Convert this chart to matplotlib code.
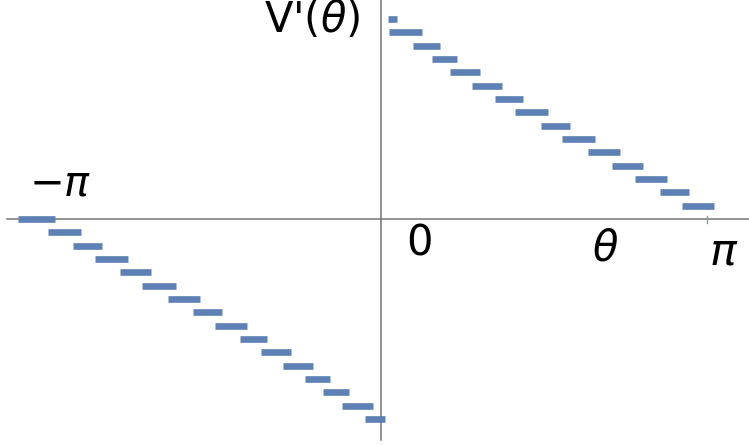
import numpy as np
import matplotlib.pyplot as plt

# step segments of V'(theta) (x in radians)
left_start = [-3.50, -3.21, -2.97, -2.76, -2.52, -2.30, -2.05, -1.81,
              -1.60, -1.36, -1.16, -0.94, -0.73, -0.56, -0.38, -0.15]
left_end = [-3.14, -2.89, -2.69, -2.44, -2.22, -1.98, -1.74, -1.53,
            -1.29, -1.10, -0.87, -0.66, -0.49, -0.31, -0.08, 0.04]
left_level = [0, -1, -2, -3, -4, -5, -6, -7, -8, -9, -10, -11, -12, -13, -14, -15]

right_start = [0.07, 0.08, 0.31, 0.49, 0.66, 0.88, 1.10, 1.29,
               1.54, 1.74, 1.99, 2.23, 2.45, 2.69, 2.90]
right_end = [0.15, 0.39, 0.57, 0.73, 0.95, 1.17, 1.37, 1.61,
             1.82, 2.06, 2.30, 2.52, 2.76, 2.97, 3.21]
right_level = [15, 14, 13, 12, 11, 10, 9, 8, 7, 6, 5, 4, 3, 2, 1]

blue = "#5E81B5"
axis_gray = "#757575"

fig = plt.figure(figsize=(7.49, 4.45), dpi=100)
ax = fig.add_axes([0, 0, 1, 1])
ax.set_xlim(-3.672, 3.546)
ax.set_ylim(-16.95, 16.43)
ax.axis("off")

# axes through the origin
ax.plot([-3.604, 3.546], [0, 0], color=axis_gray, lw=1.1, zorder=1)
ax.plot([0, 0], [-16.58, 16.43], color=axis_gray, lw=1.1, zorder=1)
ax.plot([np.pi, np.pi], [-0.3, 0.22], color="#8a9bb5", lw=1.0, zorder=1)

for xs, xe, lv in zip(left_start + right_start, left_end + right_end,
                      left_level + right_level):
    ax.plot([xs, xe], [lv, lv], color=blue, lw=4.8,
            solid_capstyle="butt", zorder=2)

plt.rcParams["mathtext.fontset"] = "dejavusans"
fs = 30
ax.text(-0.202, 14.9, r"V'($\theta$)", fontsize=fs, ha="right", va="center")
ax.text(-3.093, 2.7, r"$-\pi$", fontsize=fs, ha="center", va="center")
ax.text(0.366, -1.84, "0", fontsize=fs, ha="center", va="center")
ax.text(2.163, -2.21, r"$\theta$", fontsize=fs, ha="center", va="center")
ax.text(3.305, -2.48, r"$\pi$", fontsize=32, ha="center", va="center")

fig.savefig("out.png", dpi=100)
